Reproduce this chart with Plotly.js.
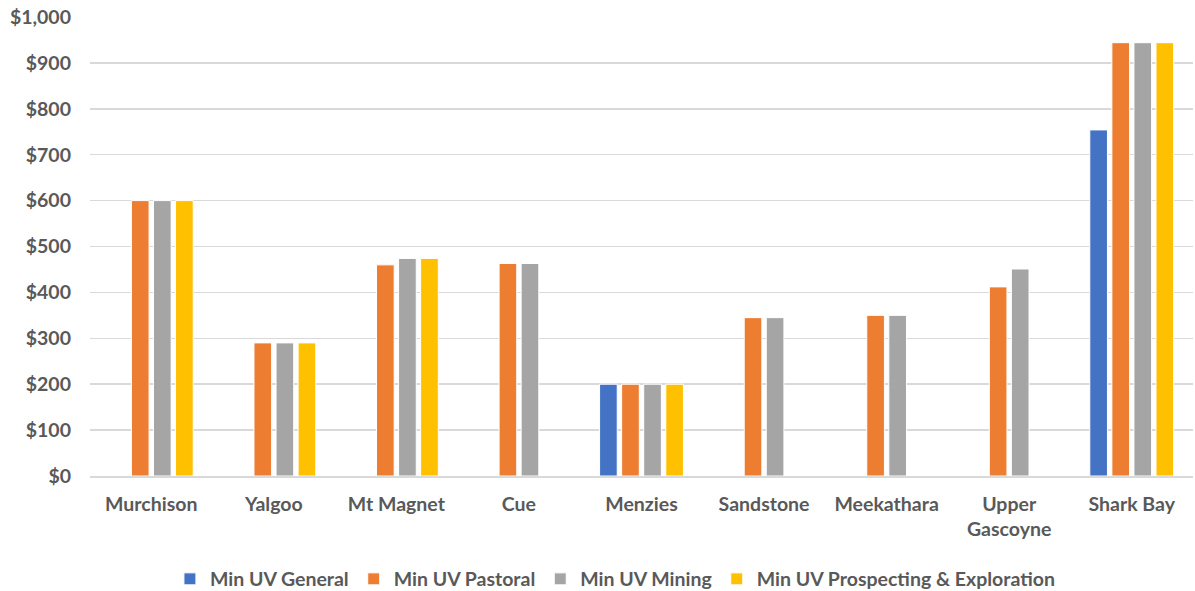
<!DOCTYPE html>
<html>
<head>
<meta charset="utf-8">
<script src="https://cdn.plot.ly/plotly-3.0.1.min.js"></script>
<style>html,body{margin:0;padding:0;background:#fff;}#chart{width:1195px;height:591px;}</style>
</head>
<body>
<div id="chart"></div>
<script>
const categories = ["Murchison", "Yalgoo", "Mt Magnet", "Cue", "Menzies", "Sandstone", "Meekathara", "Upper<br>Gascoyne", "Shark Bay"];
const seriesNames = ["Min UV General", "Min UV Pastoral", "Min UV Mining", "Min UV Prospecting & Exploration"];
const minUvGeneral = [null, null, null, null, 200, null, null, null, 754];
const minUvPastoral = [600, 290, 460, 463, 200, 345, 350, 412, 944];
const minUvMining = [600, 290, 474, 463, 200, 345, 350, 451, 944];
const minUvProspecting = [600, 290, 474, null, 200, null, null, null, 944];
const colors = ["#4472C4", "#ED7D31", "#A5A5A5", "#FFC000"];
const yTickVals = [0, 100, 200, 300, 400, 500, 600, 700, 800, 900, 1000];
const yTickText = ["$0", "$100", "$200", "$300", "$400", "$500", "$600", "$700", "$800", "$900", "$1,000"];

const seriesValues = [minUvGeneral, minUvPastoral, minUvMining, minUvProspecting];
const traces = seriesValues.map((vals, i) => ({
  type: "bar",
  name: seriesNames[i],
  x: categories,
  y: vals,
  marker: { color: colors[i], line: { color: "#ffffff", width: 1 } },
  hoverinfo: "x+y+name"
}));

const font = { family: "Lato, 'Open Sans', sans-serif", size: 19.5, color: "#595959", weight: 700 };

const layout = {
  width: 1195,
  height: 591,
  paper_bgcolor: "#ffffff",
  plot_bgcolor: "#ffffff",
  margin: { l: 90, r: 2, t: 17, b: 115 },
  barmode: "group",
  bargap: 0.28,
  bargroupgap: 0.2,
  font: font,
  showlegend: true,
  legend: {
    orientation: "h",
    xref: "container",
    yref: "container",
    x: 0.515,
    xanchor: "center",
    y: 0.02,
    yanchor: "middle",
    font: font,
    itemwidth: 20,
    traceorder: "normal"
  },
  xaxis: {
    type: "category",
    showgrid: false,
    showline: true,
    linecolor: "#d9d9d9",
    linewidth: 1.5,
    ticks: "",
    tickfont: font,
    ticklabelstandoff: 10
  },
  yaxis: {
    range: [0, 1000],
    tickvals: yTickVals,
    ticktext: yTickText,
    showgrid: true,
    gridcolor: "#d9d9d9",
    gridwidth: 1.5,
    zeroline: false,
    showline: false,
    ticks: "",
    tickfont: font,
    ticklabelstandoff: 18
  }
};

Plotly.newPlot("chart", traces, layout, { displayModeBar: false, staticPlot: true });
</script>
</body>
</html>
